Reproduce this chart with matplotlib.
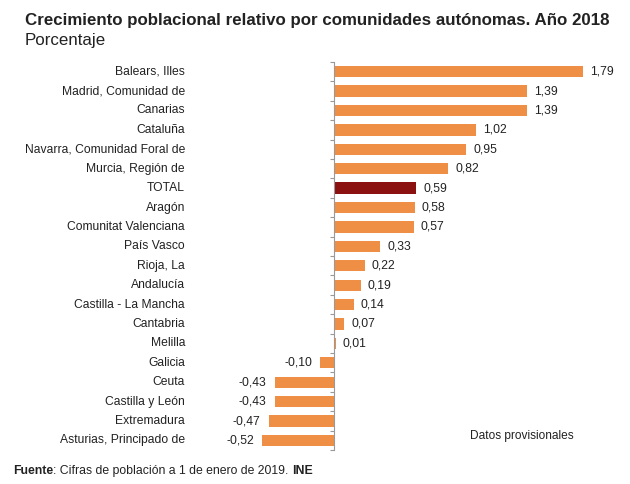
import matplotlib
matplotlib.use("Agg")
import matplotlib.pyplot as plt
import numpy as np

plt.rcParams["font.family"] = ["Liberation Sans", "DejaVu Sans"]

regions = [
    "Balears, Illes", "Madrid, Comunidad de", "Canarias", "Cataluña",
    "Navarra, Comunidad Foral de", "Murcia, Región de", "TOTAL", "Aragón",
    "Comunitat Valenciana", "País Vasco", "Rioja, La", "Andalucía",
    "Castilla - La Mancha", "Cantabria", "Melilla", "Galicia", "Ceuta",
    "Castilla y León", "Extremadura", "Asturias, Principado de",
]
growth = [1.79, 1.39, 1.39, 1.02, 0.95, 0.82, 0.59, 0.58, 0.57, 0.33,
          0.22, 0.19, 0.14, 0.07, 0.01, -0.10, -0.43, -0.43, -0.47, -0.52]

ORANGE = "#EF8F45"
TOTAL_RED = "#8B1010"
TEXT = "#222222"
FS = 8.7

fig = plt.figure(figsize=(6.3, 4.84), dpi=100)
ax = fig.add_axes([0.405, 0.070, 0.58, 0.802])

y = np.arange(len(regions))
colors = [TOTAL_RED if r == "TOTAL" else ORANGE for r in regions]
ax.barh(y, growth, height=0.58, color=colors, zorder=2)

for yi, v in zip(y, growth):
    label = f"{v:.2f}".replace(".", ",")
    if v >= 0:
        ax.text(v + 0.05, yi, label, va="center", ha="left", fontsize=FS, color=TEXT)
    else:
        ax.text(v - 0.06, yi, label, va="center", ha="right", fontsize=FS, color=TEXT)

ax.set_xlim(-0.57, 2.06)
ax.set_ylim(len(regions) - 0.5, -0.5)

for side in ["top", "right", "bottom"]:
    ax.spines[side].set_visible(False)
ax.spines["left"].set_position(("data", 0))
ax.spines["left"].set_color("#999999")
ax.spines["left"].set_linewidth(0.8)
ax.set_xticks([])

ax.set_yticks(y)
ax.set_yticklabels([])
ax.tick_params(axis="y", which="major", length=0)
ax.set_yticks(np.arange(len(regions) + 1) - 0.5, minor=True)
ax.tick_params(axis="y", which="minor", length=3, color="#999999", width=0.8)

for yi, name in zip(y, regions):
    ax.annotate(name, xy=(0, yi), xycoords=("figure fraction", "data"),
                xytext=(185, 0), textcoords="offset pixels",
                ha="right", va="center", fontsize=FS, color=TEXT)

fig.text(25 / 630, 1 - 20 / 484, "Crecimiento poblacional relativo por comunidades autónomas. Año 2018",
         fontsize=12.2, fontweight="bold", color=TEXT, va="center", ha="left")
fig.text(25 / 630, 1 - 40 / 484, "Porcentaje", fontsize=12.2, color=TEXT, va="center", ha="left")

fig.text(470 / 630, 1 - 436 / 484, "Datos provisionales", fontsize=8.6, color=TEXT, va="center", ha="left")

t = fig.text(13 / 630, 1 - 471 / 484, "Fuente", fontsize=8.8, fontweight="bold", color=TEXT, va="center", ha="left")
fig.canvas.draw()
bb = t.get_window_extent()
t2 = fig.text(bb.x1 / fig.bbox.width, 1 - 471 / 484, ": Cifras de población a 1 de enero de 2019. ", fontsize=8.8,
              color=TEXT, va="center", ha="left")
bb2 = t2.get_window_extent()
fig.text(bb2.x1 / fig.bbox.width, 1 - 471 / 484, "INE", fontsize=8.8, fontweight="bold",
         color=TEXT, va="center", ha="left")

fig.savefig("out.png", dpi=100)
